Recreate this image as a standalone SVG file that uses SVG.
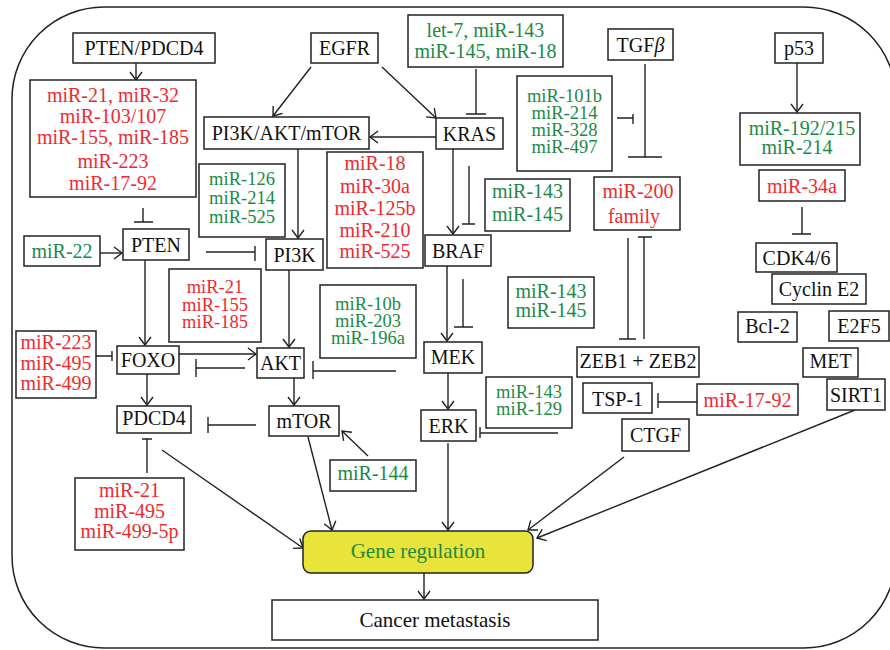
<svg xmlns="http://www.w3.org/2000/svg" width="890" height="650" viewBox="0 0 890 650">
<style>
.b{fill:#fff;stroke:#222;stroke-width:1.5}
text{font-family:"Liberation Serif","Times New Roman",serif;font-size:20px;text-anchor:middle}
.t text{font-size:18.5px}
.k{fill:#111}
.r{fill:#ee2a2f}
.g{fill:#1b8a45}
.c line,.c path{stroke:#222;stroke-width:1.4;fill:none}
.a{marker-end:url(#ah)}
</style>
<defs>
<marker id="ah" markerWidth="12" markerHeight="14" refX="9" refY="6" orient="auto" markerUnits="userSpaceOnUse" viewBox="0 0 12 12">
<path d="M1,0 L9,6 L1,12" fill="none" stroke="#222" stroke-width="1.4"/>
</marker>
</defs>
<rect x="12" y="7" width="884" height="641" rx="92" ry="92" fill="#fff" stroke="#222" stroke-width="1.5"/>

<g class="c" id="connectors">
<line class="a" x1="136" y1="63" x2="136" y2="80"/>
<line class="a" x1="311" y1="67" x2="273" y2="116"/>
<line class="a" x1="382" y1="67" x2="436" y2="118"/>
<line class="a" x1="436" y1="137" x2="370" y2="137"/>
<line class="a" x1="298" y1="149" x2="298" y2="238"/>
<line class="a" x1="453" y1="149" x2="453" y2="234"/>
<line class="a" x1="797" y1="63" x2="797" y2="112"/>
<line class="a" x1="100" y1="253" x2="122" y2="253"/>
<line class="a" x1="145" y1="260" x2="145" y2="345"/>
<line class="a" x1="179" y1="354" x2="256" y2="354"/>
<line class="a" x1="289" y1="270" x2="289" y2="347"/>
<line class="a" x1="294" y1="378" x2="294" y2="405"/>
<line class="a" x1="147" y1="374" x2="147" y2="405"/>
<line class="a" x1="447" y1="266" x2="447" y2="341"/>
<line class="a" x1="448" y1="373" x2="448" y2="409"/>
<line class="a" x1="368" y1="456" x2="342" y2="431"/>
<line class="a" x1="308" y1="437" x2="332" y2="530"/>
<line class="a" x1="448" y1="443" x2="448" y2="530"/>
<line class="a" x1="162" y1="450" x2="303" y2="548"/>
<line class="a" x1="624" y1="457" x2="528" y2="530"/>
<line class="a" x1="855" y1="410" x2="537" y2="538"/>
<line class="a" x1="424" y1="573" x2="424" y2="599"/>

<path d="M143,208 V222 M134,222 H153"/>
<path d="M206,252 H255 M255,246 V261"/>
<path d="M476,69 V114 M466,114 H486"/>
<path d="M469,166 V224 M462,224 H475"/>
<path d="M645,64 V157 M628,157 H662"/>
<path d="M617,118 H633 M633,114 V124"/>
<path d="M802,207 V234 M792,234 H811"/>
<path d="M628,238 V339 M619,339 H636"/>
<path d="M644,339 V237 M638,237 H652"/>
<path d="M96,356 H112 M112,351 V361"/>
<path d="M245,368 H196 M196,359 V377"/>
<path d="M396,371 H313 M313,361 V379"/>
<path d="M463,279 V327 M454,327 H473"/>
<path d="M256,425 H208 M208,417 V433"/>
<path d="M147,473 V439 M142,439 H152"/>
<path d="M558,433 H480 M480,427 V438"/>
<path d="M697,402 H658 M658,393 V408"/>
</g>

<g id="pten_pdcd4"><rect class="b" x="73" y="33" width="142" height="30"/><text class="k" x="144" y="55">PTEN/PDCD4</text></g>
<g id="mir_pten_group"><rect class="b" x="30" y="80" width="166" height="117"/>
<text class="r" x="113" y="102">miR-21, miR-32</text>
<text class="r" x="113" y="123">miR-103/107</text>
<text class="r" x="113" y="144">miR-155, miR-185</text>
<text class="r" x="113" y="168">miR-223</text>
<text class="r" x="113" y="190">miR-17-92</text></g>
<g id="egfr"><rect class="b" x="311" y="33" width="67" height="30"/><text class="k" x="344.5" y="55">EGFR</text></g>
<g id="let7"><rect class="b" x="408" y="15" width="155" height="52"/>
<text class="g" x="485.5" y="37">let-7, miR-143</text>
<text class="g" x="485.5" y="58">miR-145, miR-18</text></g>
<g id="pi3k_akt_mtor"><rect class="b" x="204" y="117" width="165" height="32"/><text class="k" x="286.5" y="140">PI3K/AKT/mTOR</text></g>
<g id="kras"><rect class="b" x="436" y="118" width="67" height="31"/><text class="k" x="469.5" y="141">KRAS</text></g>
<g id="mir101b" class="t"><rect class="b" x="517" y="76" width="95" height="95"/>
<text class="g" x="564.5" y="102">miR-101b</text>
<text class="g" x="564.5" y="119">miR-214</text>
<text class="g" x="564.5" y="136">miR-328</text>
<text class="g" x="564.5" y="153">miR-497</text></g>
<g id="tgfb"><rect class="b" x="608" y="29" width="65" height="31"/><text class="k" x="640.5" y="52">TGF<tspan font-style="italic">β</tspan></text></g>
<g id="p53"><rect class="b" x="775" y="33" width="48" height="30"/><text class="k" x="799" y="55">p53</text></g>
<g id="mir192"><rect class="b" x="740" y="113" width="120" height="52"/>
<text class="g" x="802" y="135">miR-192/215</text>
<text class="g" x="797" y="154">miR-214</text></g>
<g id="mir34a"><rect class="b" x="759" y="170" width="86" height="31"/><text class="r" x="802" y="193">miR-34a</text></g>
<g id="mir126" class="t"><rect class="b" x="199" y="164" width="86" height="73"/>
<text class="g" x="242" y="185">miR-126</text>
<text class="g" x="242" y="204">miR-214</text>
<text class="g" x="242" y="223">miR-525</text></g>
<g id="mir18"><rect class="b" x="327" y="152" width="96" height="116"/>
<text class="r" x="375" y="170">miR-18</text>
<text class="r" x="375" y="193">miR-30a</text>
<text class="r" x="375" y="215">miR-125b</text>
<text class="r" x="375" y="237">miR-210</text>
<text class="r" x="375" y="258">miR-525</text></g>
<g id="mir143_145a"><rect class="b" x="485" y="179" width="85" height="52"/>
<text class="g" x="527.5" y="198">miR-143</text>
<text class="g" x="527.5" y="221">miR-145</text></g>
<g id="mir200"><rect class="b" x="594" y="177" width="86" height="53"/>
<text class="r" x="638" y="198">miR-200</text>
<text class="r" x="634" y="223">family</text></g>
<g id="mir22"><rect class="b" x="24" y="236" width="76" height="30"/><text class="g" x="62" y="258">miR-22</text></g>
<g id="pten"><rect class="b" x="123" y="229" width="66" height="31"/><text class="k" x="156" y="252">PTEN</text></g>
<g id="pi3k"><rect class="b" x="266" y="239" width="57" height="31"/><text class="k" x="294.5" y="262">PI3K</text></g>
<g id="braf"><rect class="b" x="425" y="235" width="66" height="31"/><text class="k" x="458" y="258">BRAF</text></g>
<g id="cdk46"><rect class="b" x="756" y="243" width="81" height="29"/><text class="k" x="796.5" y="265">CDK4/6</text></g>
<g id="cyclin_e2"><rect class="b" x="772" y="274" width="94" height="30"/><text class="k" x="819" y="296">Cyclin E2</text></g>
<g id="mir21_155" class="t"><rect class="b" x="169" y="269" width="92" height="73"/>
<text class="r" x="215" y="293">miR-21</text>
<text class="r" x="215" y="311">miR-155</text>
<text class="r" x="215" y="328">miR-185</text></g>
<g id="mir10b" class="t"><rect class="b" x="320" y="285" width="96" height="73"/>
<text class="g" x="368" y="310">miR-10b</text>
<text class="g" x="368" y="327">miR-203</text>
<text class="g" x="368" y="344">miR-196a</text></g>
<g id="mir143_145b"><rect class="b" x="508" y="277" width="86" height="51"/>
<text class="g" x="551" y="298">miR-143</text>
<text class="g" x="551" y="317">miR-145</text></g>
<g id="bcl2"><rect class="b" x="738" y="312" width="59" height="30"/><text class="k" x="767.5" y="333">Bcl-2</text></g>
<g id="e2f5"><rect class="b" x="829" y="311" width="60" height="30"/><text class="k" x="859" y="333">E2F5</text></g>
<g id="mir223"><rect class="b" x="16" y="331" width="80" height="67"/>
<text class="r" x="56" y="349">miR-223</text>
<text class="r" x="56" y="370">miR-495</text>
<text class="r" x="56" y="390">miR-499</text></g>
<g id="foxo"><rect class="b" x="117" y="346" width="62" height="28"/><text class="k" x="148" y="367">FOXO</text></g>
<g id="akt"><rect class="b" x="257" y="348" width="47" height="30"/><text class="k" x="280.5" y="370">AKT</text></g>
<g id="mek"><rect class="b" x="424" y="342" width="58" height="31"/><text class="k" x="453" y="364">MEK</text></g>
<g id="zeb"><rect class="b" x="577" y="347" width="122" height="30"/><text class="k" x="638" y="368">ZEB1 + ZEB2</text></g>
<g id="met"><rect class="b" x="803" y="348" width="55" height="29"/><text class="k" x="830.5" y="368">MET</text></g>
<g id="mir143_129" class="t"><rect class="b" x="486" y="377" width="86" height="51"/>
<text class="g" x="529" y="398">miR-143</text>
<text class="g" x="529" y="415">miR-129</text></g>
<g id="tsp1"><rect class="b" x="583" y="383" width="69" height="30"/><text class="k" x="617.5" y="406">TSP-1</text></g>
<g id="mir17_92"><rect class="b" x="697" y="384" width="101" height="31"/><text class="r" x="747.5" y="407">miR-17-92</text></g>
<g id="sirt1"><rect class="b" x="827" y="379" width="58" height="31"/><text class="k" x="856" y="402">SIRT1</text></g>
<g id="pdcd4"><rect class="b" x="117" y="406" width="74" height="27"/><text class="k" x="154" y="425">PDCD4</text></g>
<g id="mtor"><rect class="b" x="269" y="406" width="70" height="30"/><text class="k" x="304" y="428">mTOR</text></g>
<g id="erk"><rect class="b" x="421" y="410" width="55" height="31"/><text class="k" x="448.5" y="433">ERK</text></g>
<g id="ctgf"><rect class="b" x="622" y="419" width="67" height="32"/><text class="k" x="655.5" y="442">CTGF</text></g>
<g id="mir144"><rect class="b" x="330" y="460" width="86" height="31"/><text class="g" x="373" y="480">miR-144</text></g>
<g id="mir21_495"><rect class="b" x="75" y="478" width="109" height="72"/>
<text class="r" x="129.5" y="497">miR-21</text>
<text class="r" x="129.5" y="518">miR-495</text>
<text class="r" x="129.5" y="538">miR-499-5p</text></g>
<g id="gene_regulation"><rect x="303" y="531" width="230" height="42" rx="8" ry="8" fill="#e9e43a" stroke="#222" stroke-width="1.5"/><text class="g" x="418" y="558" style="font-size:21px">Gene regulation</text></g>
<g id="cancer_metastasis"><rect class="b" x="272" y="600" width="326" height="40"/><text class="k" x="435" y="627" style="font-size:21px">Cancer metastasis</text></g>
</svg>
